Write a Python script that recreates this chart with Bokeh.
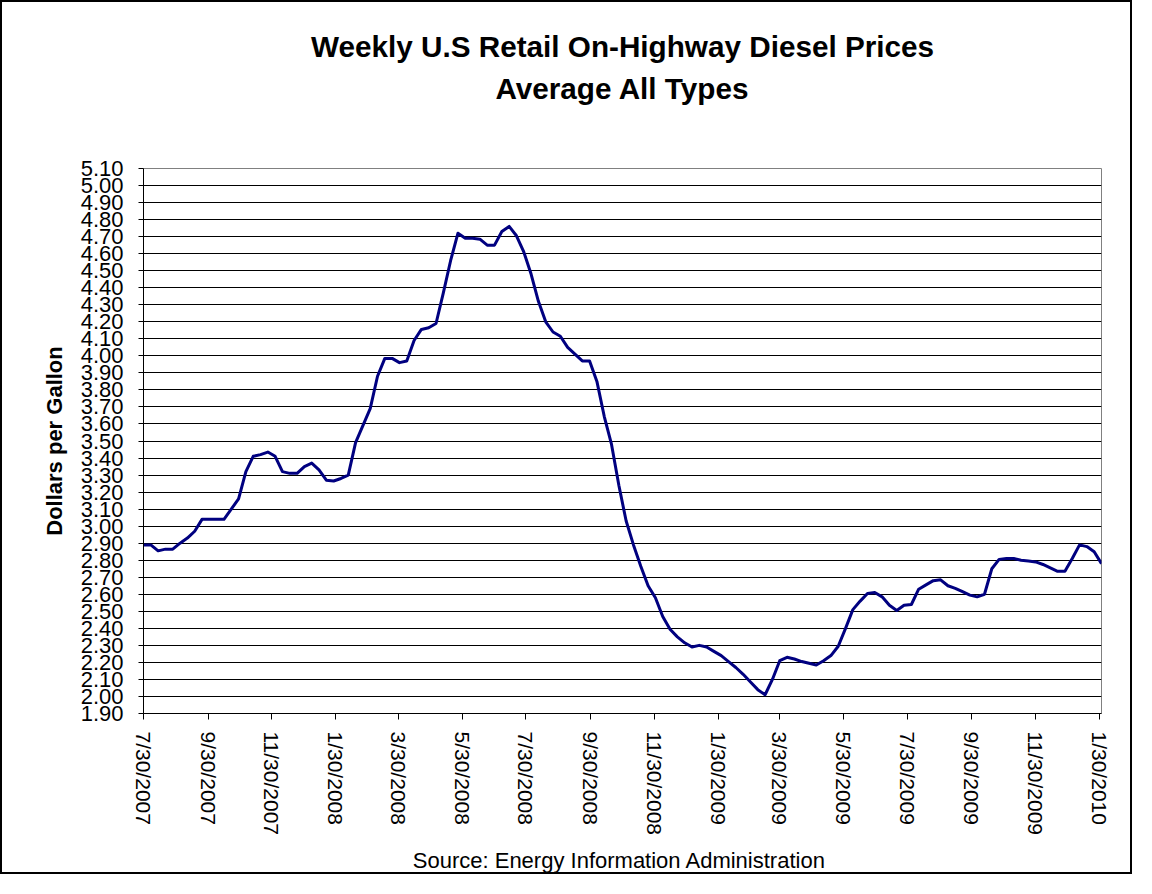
import pandas as pd
from bokeh.plotting import figure
from bokeh.models import (Range1d, FixedTicker, NumeralTickFormatter, Title,
                          CustomJSTickFormatter)
from bokeh.embed import file_html
from bokeh.resources import INLINE

# ---------------- data ----------------
first_week = "2007-07-30"
prices = [
    2.89, 2.89, 2.855, 2.865, 2.865, 2.90, 2.93, 2.97, 3.04, 3.04,
    3.04, 3.04, 3.10, 3.16, 3.32, 3.41, 3.42, 3.435, 3.41, 3.32,
    3.31, 3.31, 3.35, 3.37, 3.33, 3.27, 3.265, 3.28, 3.30, 3.49,
    3.59, 3.69, 3.88, 3.985, 3.985, 3.96, 3.97, 4.09, 4.155, 4.165,
    4.19, 4.37, 4.56, 4.72, 4.69, 4.69, 4.685, 4.65, 4.65, 4.73,
    4.76, 4.705, 4.61, 4.48, 4.32, 4.20, 4.14, 4.115, 4.05, 4.01,
    3.97, 3.97, 3.85, 3.645, 3.48, 3.24, 3.03, 2.89, 2.765, 2.65,
    2.58, 2.47, 2.395, 2.35, 2.315, 2.29, 2.30, 2.29, 2.265, 2.24,
    2.205, 2.17, 2.13, 2.085, 2.04, 2.01, 2.10, 2.21, 2.23, 2.22,
    2.205, 2.195, 2.185, 2.21, 2.24, 2.295, 2.40, 2.51, 2.56, 2.605,
    2.61, 2.585, 2.535, 2.505, 2.535, 2.54, 2.63, 2.655, 2.68, 2.685,
    2.65, 2.635, 2.615, 2.595, 2.585, 2.60, 2.75, 2.805, 2.81, 2.81,
    2.80, 2.795, 2.79, 2.775, 2.755, 2.735, 2.735, 2.81, 2.89, 2.88,
    2.85, 2.78,
]
x_tick_labels = ["7/30/2007", "9/30/2007", "11/30/2007", "1/30/2008", "3/30/2008",
                 "5/30/2008", "7/30/2008", "9/30/2008", "11/30/2008", "1/30/2009",
                 "3/30/2009", "5/30/2009", "7/30/2009", "9/30/2009", "11/30/2009",
                 "1/30/2010"]
y_ticks = [round(1.9 + 0.1 * k, 2) for k in range(33)]
title_line1 = "Weekly U.S Retail On-Highway Diesel Prices"
title_line2 = "Average All Types"
y_title = "Dollars per Gallon"
source_note = "Source:  Energy Information Administration"

dates = pd.date_range(first_week, periods=len(prices), freq="7D")
tick_dates = pd.to_datetime(x_tick_labels, format="%m/%d/%Y")
tick_ms = [int(t.value // 10**6) for t in tick_dates]

FONT = "Liberation Sans"

# ---------------- figure ----------------
W, H = 1132, 874
p = figure(width=W, height=H, x_axis_type="datetime",
           x_range=Range1d(dates[0], dates[-1]), y_range=Range1d(1.9, 5.1),
           output_backend="svg", toolbar_location=None,
           min_border_left=141, min_border_right=33,
           min_border_top=166, min_border_bottom=162,
           background_fill_color="white", border_fill_color="white")
p.styles = {"border": "2px solid black"}
p.outline_line_color = "#808080"
p.outline_line_width = 1

p.line(dates, prices, line_color="#000080", line_width=3, line_join="round")

# titles: spacer nearest the frame, then line 2, then line 1
p.add_layout(Title(text=" ", text_font=FONT, text_font_size="20px", standoff=36), "above")
p.add_layout(Title(text=title_line2, align="center", text_font=FONT,
                   text_font_size="29.7px", text_font_style="bold",
                   text_color="black", standoff=7), "above")
p.add_layout(Title(text=title_line1, align="center", text_font=FONT,
                   text_font_size="29.7px", text_font_style="bold",
                   text_color="black", standoff=7), "above")

# y axis
p.yaxis.ticker = FixedTicker(ticks=y_ticks)
p.yaxis.formatter = NumeralTickFormatter(format="0.00")
p.yaxis.major_label_text_font = FONT
p.yaxis.major_label_text_font_size = "22px"
p.yaxis.major_label_text_color = "black"
p.yaxis.major_label_standoff = 15
p.yaxis.major_tick_out = 5
p.yaxis.major_tick_in = 0
p.yaxis.minor_tick_line_color = None
p.yaxis.axis_line_color = "black"
p.yaxis.major_tick_line_color = "black"
p.yaxis.axis_label = y_title
p.yaxis.axis_label_text_font = FONT
p.yaxis.axis_label_text_font_size = "22px"
p.yaxis.axis_label_text_font_style = "bold"
p.yaxis.axis_label_text_color = "black"
p.yaxis.axis_label_standoff = 11

# x axis
p.xaxis.ticker = FixedTicker(ticks=tick_ms)
p.xaxis.formatter = CustomJSTickFormatter(args=dict(pos=tick_ms, labs=x_tick_labels), code="""
let best = 0, bd = Infinity;
for (let i = 0; i < pos.length; i++) {
  const d = Math.abs(pos[i] - tick);
  if (d < bd) { bd = d; best = i; }
}
return labs[best];
""")
p.xaxis.major_label_orientation = "vertical"
p.xaxis.major_label_text_font = FONT
p.xaxis.major_label_text_font_size = "21px"
p.xaxis.major_label_text_color = "black"
p.xaxis.major_label_standoff = 12
p.xaxis.major_tick_out = 6
p.xaxis.major_tick_in = 0
p.xaxis.minor_tick_line_color = None
p.xaxis.axis_line_color = "black"
p.xaxis.major_tick_line_color = "black"
p.xaxis.axis_label = source_note
p.xaxis.axis_label_text_font = FONT
p.xaxis.axis_label_text_font_size = "22px"
p.xaxis.axis_label_text_font_style = "normal"
p.xaxis.axis_label_text_color = "black"
p.xaxis.axis_label_standoff = 10

# grid
p.xgrid.grid_line_color = None
p.ygrid.ticker = FixedTicker(ticks=y_ticks[1:-1])
p.ygrid.grid_line_color = "black"
p.ygrid.grid_line_width = 1
p.ygrid.grid_line_alpha = 1.0

open("out.html", "w").write(file_html(p, INLINE))
